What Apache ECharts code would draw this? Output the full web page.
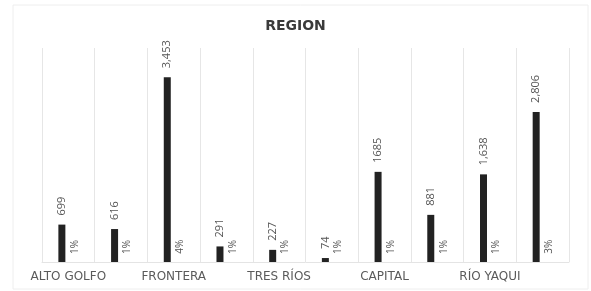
<!DOCTYPE html>
<html>
<head>
<meta charset="utf-8">
<script src="https://cdn.jsdelivr.net/npm/echarts@6/dist/echarts.min.js"></script>
<style>
  html, body { margin: 0; padding: 0; background: #fff; }
  #region { width: 591px; height: 291px; }
</style>
</head>
<body>
<div id="region"></div>
<script>
// regiones
var categories = ['ALTO GOLFO', 'DESIERTO', 'FRONTERA', 'SIERRA ALTA', 'TRES RÍOS', 'CENTRO NORTE', 'CAPITAL', 'COSTA', 'RÍO YAQUI', 'MAYO'];
var totals = [699, 616, 3453, 291, 227, 74, 1685, 881, 1638, 2806];
var totalLabels = ['699', '616', '3,453', '291', '227', '74', '1685', '881', '1,638', '2,806'];
var percents = [1, 1, 4, 1, 1, 1, 1, 1, 1, 3];

var myChart = echarts.init(document.getElementById('region'));
var option = {
    animation: false,
    title: {
        text: 'REGION',
        left: 'center',
        top: 14,
        textStyle: {
            fontFamily: 'DejaVu Sans',
            fontSize: 14,
            fontWeight: 'bold',
            color: '#3a3a3a'
        }
    },
    graphic: [{
        type: 'rect',
        shape: { x: 13, y: 5, width: 575, height: 284 },
        style: { fill: 'none', stroke: '#eeeeee', lineWidth: 1 },
        silent: true
    }],
    grid: {
        left: 42,
        right: 22,
        top: 48,
        bottom: 29
    },
    xAxis: {
        type: 'category',
        data: categories,
        axisTick: { show: false },
        axisLine: { lineStyle: { color: '#e4e4e4' } },
        splitLine: {
            show: true,
            interval: 0,
            lineStyle: { color: '#e6e6e6' }
        },
        axisLabel: {
            interval: 1,
            margin: 9,
            fontFamily: 'DejaVu Sans',
            fontSize: 12,
            color: '#5a5a5a'
        }
    },
    yAxis: {
        type: 'value',
        min: 0,
        max: 4000,
        show: false,
        splitLine: { show: false }
    },
    series: [
        {
            name: 'Total',
            type: 'bar',
            data: totals,
            barWidth: 7,
            barGap: '85%',
            itemStyle: { color: '#222222' },
            label: {
                show: true,
                position: 'top',
                rotate: 90,
                align: 'left',
                verticalAlign: 'middle',
                distance: 9,
                fontFamily: 'Open Sans',
                fontSize: 11,
                color: '#555',
                formatter: function (p) { return totalLabels[p.dataIndex]; }
            }
        },
        {
            name: 'Porcentaje',
            type: 'bar',
            data: percents,
            barWidth: 7,
            itemStyle: { color: 'rgba(0,0,0,0)' },
            label: {
                show: true,
                position: 'top',
                rotate: 90,
                align: 'left',
                verticalAlign: 'middle',
                distance: 8,
                fontFamily: 'Open Sans',
                fontSize: 10,
                color: '#555',
                formatter: '{c}%'
            }
        }
    ]
};
myChart.setOption(option);
</script>
</body>
</html>
